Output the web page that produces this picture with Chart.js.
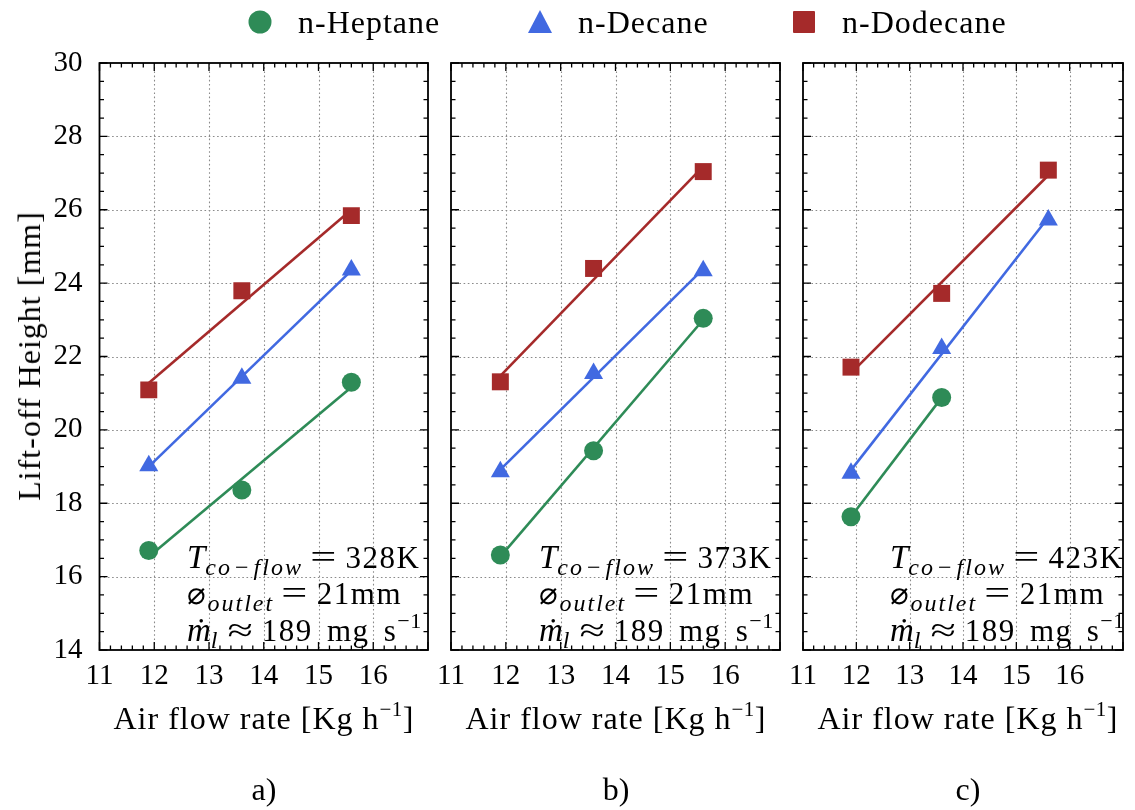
<!DOCTYPE html>
<html>
<head>
<meta charset="utf-8">
<script src="https://cdn.jsdelivr.net/npm/chart.js@4.4.0/dist/chart.umd.min.js"></script>
<style>
  html, body { margin: 0; padding: 0; background: #fff; }
  #wrap { position: relative; width: 1135px; height: 810px; overflow: hidden;
          font-family: 'Liberation Serif', 'Times New Roman', serif; color: #000; }
  canvas { position: absolute; left: 0; top: 0; }
  .t { position: absolute; white-space: nowrap; }
  .leg { font-size: 32px; line-height: 32px; letter-spacing: 1px; }
  .xt { font-size: 32px; line-height: 32px; letter-spacing: 1px; transform: translateX(-50%); }
  .pl { font-size: 32px; line-height: 32px; transform: translateX(-50%); }
  .yt { font-size: 32px; line-height: 32px; letter-spacing: 1px; transform: translate(-50%, -50%) rotate(-90deg); }
  .ann { font-size: 31px; line-height: 36px; letter-spacing: 1.5px; word-spacing: 5px; }
  .ann div { display: block; }
  .ann sub { font-size: 24px; font-style: italic; vertical-align: baseline; position: relative; top: 7px; line-height: 0; letter-spacing: 2px; }
  .ann .mi { font-style: italic; font-size: 33px; letter-spacing: 0; }
  .ann .op { padding: 0 3px; font-style: normal; }
  sup { font-size: 21px; vertical-align: baseline; position: relative; top: -13px; line-height: 0; letter-spacing: 0.5px; }
  .ann sup { font-size: 22px; }
  .eq { display: inline-block; font-size: 33px; line-height: 20px; transform: scaleX(1.4); margin: 0 13px 0 11px; letter-spacing: 0; }
</style>
</head>
<body>
<div id="wrap">
  <canvas id="cA" width="1135" height="810"></canvas>
  <canvas id="cB" width="1135" height="810"></canvas>
  <canvas id="cC" width="1135" height="810"></canvas>

  <svg class="t" style="left:0;top:0" width="1135" height="50">
    <circle cx="260" cy="22" r="11.5" fill="#2E8B57"/>
    <polygon points="540,10 528,33 552,33" fill="#4169E1"/>
    <rect x="793" y="11" width="22" height="22" rx="1" fill="#A52A2A"/>
  </svg>
  <div class="t leg" style="left:298px;top:6px">n-Heptane</div>
  <div class="t leg" style="left:578px;top:6px">n-Decane</div>
  <div class="t leg" style="left:842px;top:6px">n-Dodecane</div>

  <div class="t yt" style="left:29px;top:356px">Lift-off Height [mm]</div>

  <div class="t xt" style="left:264px;top:702px">Air flow rate [Kg h<sup>−1</sup>]</div>
  <div class="t xt" style="left:616px;top:702px">Air flow rate [Kg h<sup>−1</sup>]</div>
  <div class="t xt" style="left:968px;top:702px">Air flow rate [Kg h<sup>−1</sup>]</div>

  <div class="t pl" style="left:264px;top:773px">a)</div>
  <div class="t pl" style="left:616px;top:773px">b)</div>
  <div class="t pl" style="left:968px;top:773px">c)</div>

  <div class="t ann" style="left:187px;top:539px">
    <div><span class="mi">T</span><sub>co<span class="op">−</span>flow</sub><span class="eq">=</span>328K</div>
    <div>⌀<sub>outlet</sub><span class="eq">=</span>21mm</div>
    <div><span class="mi">ṁ</span><sub>l</sub><span class="eq">≈</span>189 mg s<sup>−1</sup></div>
  </div>
  <div class="t ann" style="left:539px;top:539px">
    <div><span class="mi">T</span><sub>co<span class="op">−</span>flow</sub><span class="eq">=</span>373K</div>
    <div>⌀<sub>outlet</sub><span class="eq">=</span>21mm</div>
    <div><span class="mi">ṁ</span><sub>l</sub><span class="eq">≈</span>189 mg s<sup>−1</sup></div>
  </div>
  <div class="t ann" style="left:890px;top:539px">
    <div><span class="mi">T</span><sub>co<span class="op">−</span>flow</sub><span class="eq">=</span>423K</div>
    <div>⌀<sub>outlet</sub><span class="eq">=</span>21mm</div>
    <div><span class="mi">ṁ</span><sub>l</sub><span class="eq">≈</span>189 mg s<sup>−1</sup></div>
  </div>
</div>

<script>
// ---------------- data ----------------
const airFlow = [11.9, 13.6, 15.6];               // Air flow rate [Kg h^-1]
const seriesNames = ['n-Heptane', 'n-Decane', 'n-Dodecane'];
const xTicks = [11, 12, 13, 14, 15, 16];
const yTicks = [14, 16, 18, 20, 22, 24, 26, 28, 30];

// a) T = 328 K
const heptaneA  = [16.71, 18.36, 21.30];
const decaneA   = [19.02, 21.41, 24.36];
const dodecaneA = [21.09, 23.79, 25.84];
// b) T = 373 K
const heptaneB  = [16.59, 19.43, 23.04];
const decaneB   = [18.86, 21.54, 24.34];
const dodecaneB = [21.31, 24.40, 27.04];
// c) T = 423 K
const heptaneC  = [17.63, 20.88, null];
const decaneC   = [18.82, 22.22, 25.72];
const dodecaneC = [21.71, 23.72, 27.08];

// ---------------- styling ----------------
const colors = ['#2E8B57', '#4169E1', '#A52A2A'];
const styles = ['circle', 'triangle', 'rect'];
const radii  = [9.5, 11, 12];
const FONT = '"Liberation Serif", "Times New Roman", serif';

function linFit(xs, ys) {
  const pts = xs.map((x, i) => [x, ys[i]]).filter(p => p[1] !== null && p[1] !== undefined);
  const n = pts.length;
  const mx = pts.reduce((s, p) => s + p[0], 0) / n;
  const my = pts.reduce((s, p) => s + p[1], 0) / n;
  let sxy = 0, sxx = 0;
  pts.forEach(p => { sxy += (p[0] - mx) * (p[1] - my); sxx += (p[0] - mx) * (p[0] - mx); });
  const b = sxy / sxx, a = my - b * mx;
  const x0 = Math.min(...pts.map(p => p[0])), x1 = Math.max(...pts.map(p => p[0]));
  return [{x: x0, y: a + b * x0}, {x: x1, y: a + b * x1}];
}

function buildDatasets(seriesValues) {
  const ds = [];
  seriesValues.forEach((vals, i) => {
    ds.push({
      label: seriesNames[i],
      data: airFlow.map((x, k) => ({x: x, y: vals[k]})).filter(p => p.y !== null),
      showLine: false,
      pointStyle: styles[i],
      pointRadius: radii[i],
      pointHoverRadius: radii[i],
      backgroundColor: colors[i],
      borderColor: colors[i],
      borderWidth: 0,
      order: 0
    });
    ds.push({
      label: seriesNames[i] + ' fit',
      data: linFit(airFlow, vals),
      showLine: true,
      pointRadius: 0,
      borderColor: colors[i],
      borderWidth: 2.6,
      fill: false,
      order: 1
    });
  });
  return ds;
}

const framePlugin = {
  id: 'frame',
  beforeDatasetsDraw(chart) {
    const {ctx, chartArea: a, scales: {x, y}} = chart;
    ctx.save();
    ctx.strokeStyle = '#8a8a8a';
    ctx.lineWidth = 1.1;
    ctx.setLineDash([1.6, 2.6]);
    xTicks.forEach(v => {
      if (v <= x.min || v >= x.max) return;
      const px = Math.round(x.getPixelForValue(v)) + 0.5;
      ctx.beginPath(); ctx.moveTo(px, a.top); ctx.lineTo(px, a.bottom); ctx.stroke();
    });
    yTicks.forEach(v => {
      if (v <= y.min || v >= y.max) return;
      const py = Math.round(y.getPixelForValue(v)) + 0.5;
      ctx.beginPath(); ctx.moveTo(a.left, py); ctx.lineTo(a.right, py); ctx.stroke();
    });
    ctx.restore();
  },
  afterDraw(chart) {
    const {ctx, chartArea: a, scales: {x, y}} = chart;
    ctx.save();
    ctx.strokeStyle = '#000';
    ctx.setLineDash([]);
    ctx.lineWidth = 1.3;
    for (let i = 0; i <= 30; i++) {
      const v = x.min + i * 0.2;
      const px = x.getPixelForValue(v);
      const len = (i % 5 === 0) ? 8 : 4.5;
      ctx.beginPath();
      ctx.moveTo(px, a.bottom); ctx.lineTo(px, a.bottom - len);
      ctx.moveTo(px, a.top); ctx.lineTo(px, a.top + len);
      ctx.stroke();
    }
    for (let i = 0; i <= 32; i++) {
      const v = y.min + i * 0.5;
      const py = y.getPixelForValue(v);
      const len = (i % 4 === 0) ? 8 : 4.5;
      ctx.beginPath();
      ctx.moveTo(a.left, py); ctx.lineTo(a.left + len, py);
      ctx.moveTo(a.right, py); ctx.lineTo(a.right - len, py);
      ctx.stroke();
    }
    ctx.lineWidth = 1.8;
    ctx.strokeRect(a.left, a.top, a.right - a.left, a.bottom - a.top);
    ctx.restore();
  }
};

function makeChart(id, seriesValues, left, right, showY) {
  const W = 1135, H = 810, TOP = 63, BOTTOM = 650, XAXIS_H = 50;
  return new Chart(document.getElementById(id), {
    type: 'scatter',
    data: { datasets: buildDatasets(seriesValues) },
    plugins: [framePlugin],
    options: {
      responsive: false,
      animation: false,
      devicePixelRatio: 1,
      layout: { padding: { left: showY ? 0 : left, right: W - right, top: TOP, bottom: H - BOTTOM - XAXIS_H } },
      plugins: { legend: { display: false }, tooltip: { enabled: false } },
      scales: {
        x: {
          type: 'linear', min: 11, max: 17,
          afterBuildTicks: s => { s.ticks = [11, 12, 13, 14, 15, 16, 17].map(v => ({value: v})); },
          afterFit: s => { s.height = XAXIS_H; },
          grid: { display: false, drawTicks: false },
          border: { display: false },
          ticks: {
            autoSkip: false, maxRotation: 0,
            callback: v => xTicks.includes(v) ? String(v) : '',
            font: { family: FONT, size: 29 }, color: '#000', padding: 9
          }
        },
        y: {
          type: 'linear', min: 14, max: 30,
          afterBuildTicks: s => { s.ticks = yTicks.map(v => ({value: v})); },
          afterFit: s => { s.width = showY ? left : 0; },
          grid: { display: false, drawTicks: false },
          border: { display: false },
          ticks: {
            display: showY,
            font: { family: FONT, size: 29 }, color: '#000', padding: 17
          }
        }
      }
    }
  });
}

Chart.defaults.font.family = FONT;

function start() {
  makeChart('cA', [heptaneA, decaneA, dodecaneA], 99.5, 428, true);
  makeChart('cB', [heptaneB, decaneB, dodecaneB], 451, 780, false);
  makeChart('cC', [heptaneC, decaneC, dodecaneC], 803, 1132, false);
}
if (document.fonts && document.fonts.load) {
  document.fonts.load('29px "Liberation Serif"').then(start, start);
} else {
  start();
}
</script>
</body>
</html>
